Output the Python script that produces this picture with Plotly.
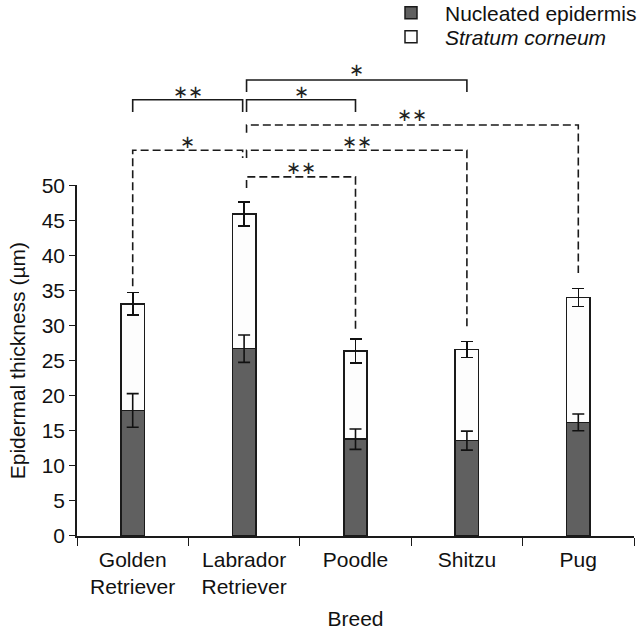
import plotly.graph_objects as go

# ---------------- data ----------------
breeds = ["Golden<br>Retriever", "Labrador<br>Retriever", "Poodle", "Shitzu", "Pug"]
nucleated = [17.9, 26.7, 13.8, 13.6, 16.2]          # nucleated epidermis (µm)
nucleated_err = [2.4, 1.95, 1.45, 1.35, 1.2]
stratum = [15.2, 19.2, 12.6, 13.0, 17.8]            # stratum corneum layer (µm)
stratum_err = [1.6, 1.7, 1.7, 1.15, 1.3]            # error of total thickness
y_ticks = [0, 5, 10, 15, 20, 25, 30, 35, 40, 45, 50]

# significance brackets (category indices, label, dashed?, heights in µm units)
sig_from = [0, 1, 1, 1, 0, 1, 1]
sig_to = [1, 2, 3, 4, 1, 3, 2]
sig_label = ["∗∗", "∗", "∗", "∗∗", "∗", "∗∗", "∗∗"]
sig_dashed = [False, False, False, True, True, True, True]
sig_top = [62.2, 62.2, 65.0, 58.6, 55.0, 55.0, 51.2]
sig_left_end = [60.45, 60.45, 63.3, 57.5, 35.6, 53.9, 49.6]
sig_right_end = [60.45, 60.45, 63.3, 37.5, 53.9, 29.4, 29.4]
sig_label_y = [63.4, 63.4, 66.5, 60.1, 56.3, 56.3, 52.6]

FONT = "Liberation Sans, Arial, Helvetica, sans-serif"
Y_MAX_AXIS = 50
Y_MAX_TOTAL = 70
ERR_STYLE = dict(type="data", color="#111111", thickness=1.6, width=6)

fig = go.Figure()

fig.add_trace(go.Bar(
    x=breeds, y=nucleated, name="Nucleated epidermis",
    marker=dict(color="#606060", line=dict(color="#1a1a1a", width=1.5)),
    legend="legend", hoverinfo="x+y",
))
fig.add_trace(go.Bar(
    x=breeds, y=stratum, name="<i>Stratum corneum</i>",
    marker=dict(color="#fdfdfd", line=dict(color="#1a1a1a", width=1.5)),
    error_y=dict(array=stratum_err, **ERR_STYLE),
    legend="legend2",
))
# error bars of the nucleated layer, drawn above both bar layers
fig.add_trace(go.Scatter(
    x=breeds, y=nucleated, mode="markers",
    marker=dict(size=1, color="rgba(0,0,0,0)"),
    error_y=dict(array=nucleated_err, **ERR_STYLE),
    showlegend=False, hoverinfo="skip",
))

# brackets
for a, b, lab, dashed, top, le, re, ly in zip(sig_from, sig_to, sig_label, sig_dashed,
                                                sig_top, sig_left_end, sig_right_end, sig_label_y):
    xl = a + (0.022 if a == 1 else 0)
    xr = b + (-0.013 if b == 1 else 0)
    fig.add_trace(go.Scatter(
        x=[xl, xl, xr, xr], y=[le, top, top, re], mode="lines",
        line=dict(color="#1a1a1a", width=1.6, dash="8px,4px" if dashed else "solid"),
        xaxis="x2", yaxis="y2", showlegend=False, hoverinfo="skip",
    ))
    fig.add_annotation(
        x=(xl + xr) / 2, y=ly, xref="x2", yref="y2", text=lab, showarrow=False,
        font=dict(family="DejaVu Sans", size=18, color="#222222"),
        xanchor="center", yanchor="middle",
    )

legend_style = dict(xanchor="left", yanchor="top",
                    font=dict(family=FONT, size=21, color="#111111"),
                    bgcolor="rgba(0,0,0,0)", itemclick=False, itemwidth=58)

fig.update_layout(
    width=640, height=630,
    margin=dict(l=77, r=6, t=45, b=94, autoexpand=False),
    paper_bgcolor="white", plot_bgcolor="rgba(0,0,0,0)",
    barmode="stack", bargap=0.79,
    font=dict(family=FONT, size=21, color="#111111"),
    showlegend=True,
    legend=dict(x=0.5386, y=1.1069, **legend_style),
    legend2=dict(x=0.5386, y=1.058, **legend_style),
    xaxis=dict(
        type="category", range=[-0.5, 4.5], showline=True, linecolor="#1a1a1a", linewidth=1.5,
        ticks="outside", ticklen=8, tickwidth=1.2, tickcolor="#1a1a1a", tickson="boundaries",
        tickangle=0, ticklabelstandoff=4, showgrid=False, zeroline=False,
        title=dict(text="Breed", standoff=16, font=dict(size=21)),
        tickfont=dict(size=21),
    ),
    yaxis=dict(
        domain=[0, Y_MAX_AXIS / Y_MAX_TOTAL], range=[0, Y_MAX_AXIS],
        tickvals=y_ticks, showline=True, linecolor="#1a1a1a", linewidth=1.5,
        ticks="outside", ticklen=6, tickwidth=1.2, tickcolor="#1a1a1a",
        showgrid=False, zeroline=False,
        title=dict(text="Epidermal thickness (µm)", standoff=10, font=dict(size=21)),
        tickfont=dict(size=21),
    ),
    xaxis2=dict(overlaying="x", range=[-0.5, 4.5], visible=False, anchor="y2"),
    yaxis2=dict(domain=[0, 1], range=[0, Y_MAX_TOTAL], visible=False, anchor="x2"),
)

fig.write_html("out.html", config={"displayModeBar": False},
               post_script="document.body.style.margin='0';")
